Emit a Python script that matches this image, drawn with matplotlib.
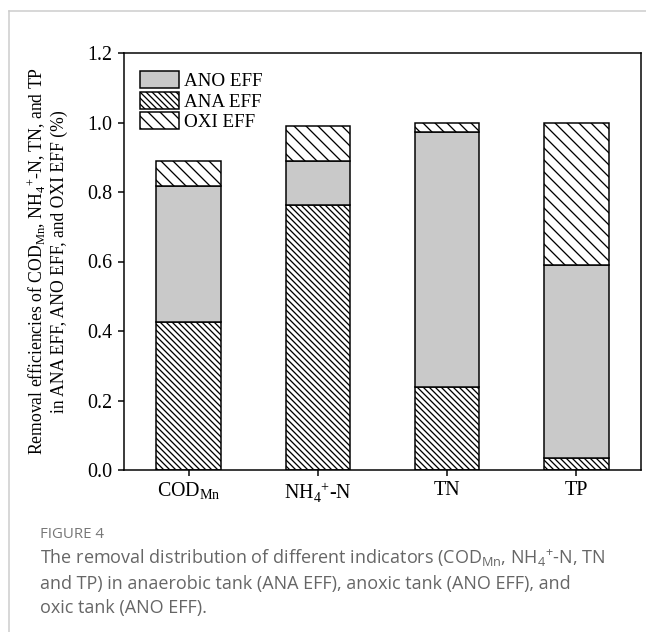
import matplotlib
matplotlib.use("Agg")
import matplotlib.pyplot as plt
from matplotlib.patches import Patch
from matplotlib.lines import Line2D
import numpy as np

# removal fractions
categories = ["COD$_{\\mathrm{Mn}}$", "NH$_{\\mathrm{4}}$$^{\\mathrm{+}}$-N", "TN", "TP"]
ana_eff = [0.425, 0.763, 0.240, 0.035]
ano_eff = [0.392, 0.126, 0.732, 0.555]
oxi_eff = [0.072, 0.101, 0.028, 0.410]

plt.rcParams["font.family"] = ["Liberation Serif", "DejaVu Serif"]
plt.rcParams["mathtext.fontset"] = "custom"
plt.rcParams["mathtext.rm"] = "Liberation Serif"
plt.rcParams["mathtext.sf"] = "Open Sans"
plt.rcParams["hatch.linewidth"] = 1.3

DPI = 72
fig = plt.figure(figsize=(646 / DPI, 632 / DPI), dpi=DPI)
ax = fig.add_axes([124 / 646, 1 - 470 / 632, 517 / 646, 417 / 632])

x = np.arange(1, len(categories) + 1)
w = 0.5
ana = np.array(ana_eff)
ano = np.array(ano_eff)
oxi = np.array(oxi_eff)

ax.bar(x, ana, w, color="white", edgecolor="black", hatch="\\\\\\\\", linewidth=1.5)
ax.bar(x, ano, w, bottom=ana, color="#c9c9c9", edgecolor="black", linewidth=1.5)
ax.bar(x, oxi, w, bottom=ana + ano, color="white", edgecolor="black", hatch="\\\\", linewidth=1.5)

ax.set_xlim(0.5, 4.5)
ax.set_ylim(0, 1.2)
ax.set_yticks(np.arange(0, 1.21, 0.2))
ax.set_yticklabels(["%.1f" % v for v in np.arange(0, 1.21, 0.2)])
ax.set_xticks(x)
ax.set_xticklabels(categories)
ax.tick_params(direction="out", length=6, width=1.5, labelsize=20)
ax.tick_params(axis="y", pad=6)
ax.tick_params(axis="x", pad=5)
for s in ax.spines.values():
    s.set_linewidth(1.5)

ax.set_ylabel("Removal efficiencies of COD$_{\\mathrm{Mn}}$, NH$_{\\mathrm{4}}$$^{\\mathrm{+}}$-N, TN, and TP\n"
              "in ANA EFF, ANO EFF, and OXI EFF (%)", fontsize=17.6, linespacing=1.2, labelpad=19)

handles = [
    Patch(facecolor="#c9c9c9", edgecolor="black", linewidth=1.5),
    Patch(facecolor="white", edgecolor="black", hatch="\\\\\\\\", linewidth=1.5),
    Patch(facecolor="white", edgecolor="black", hatch="\\\\", linewidth=1.5),
]
ax.legend(handles, ["ANO EFF", "ANA EFF", "OXI EFF"], loc="upper left",
          bbox_to_anchor=(0.008, 0.985), frameon=False, fontsize=19,
          handlelength=2.1, handleheight=1.0, labelspacing=0.1,
          handletextpad=0.25, borderaxespad=0.2)

# page frame and caption
fig.add_artist(Line2D([9 / 646, 1], [1 - 11 / 632] * 2, color="#cccccc", lw=1.5))
fig.add_artist(Line2D([9 / 646] * 2, [0, 1 - 11 / 632], color="#cccccc", lw=1.5))

fig.text(40 / 646, 1 - 535 / 632, "FIGURE 4", family="Open Sans", fontsize=15,
         color="#777777", va="center")
caption = ("The removal distribution of different indicators (COD$_{\\mathsf{Mn}}$, NH$_{\\mathsf{4}}$$^{\\mathsf{+}}$-N, TN\n"
           "and TP) in anaerobic tank (ANA EFF), anoxic tank (ANO EFF), and\n"
           "oxic tank (ANO EFF).")
fig.text(40 / 646, 1 - 547 / 632, caption, family="Open Sans", fontsize=18,
         color="#666666", va="top", linespacing=1.45)

fig.savefig("out.png", dpi=DPI)
